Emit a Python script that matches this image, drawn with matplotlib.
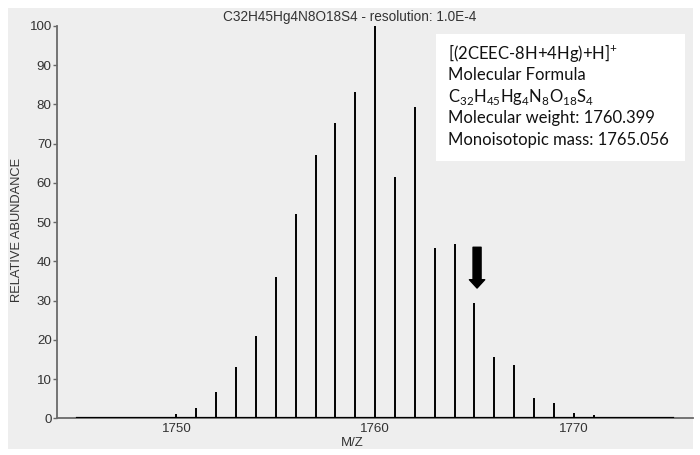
import matplotlib
matplotlib.use("Agg")
import matplotlib.pyplot as plt
from matplotlib.patches import Rectangle, FancyArrowPatch

# ==========================
# Veri: izotop dağılımı (m/z, bağıl bolluk)
# ==========================
mz = [1745, 1746, 1747, 1748, 1749, 1750, 1751, 1752, 1753, 1754, 1755,
      1756, 1757, 1758, 1759, 1760, 1761, 1762, 1763, 1764, 1765, 1766,
      1767, 1768, 1769, 1770, 1771, 1772, 1773, 1774, 1775]
abundance = [0.1, 0.05, 0.15, 0.2, 0.35, 1.2, 2.5, 6.8, 13.0, 21.1, 36.1,
             52.0, 67.0, 75.3, 83.3, 100.0, 61.6, 79.3, 43.4, 44.5, 29.3, 15.6,
             13.6, 5.3, 3.8, 1.4, 0.8, 0.3, 0.2, 0.15, 0.1]

x_ticks = [1750, 1760, 1770]
y_ticks = [0, 10, 20, 30, 40, 50, 60, 70, 80, 90, 100]

title = "C32H45Hg4N8O18S4 - resolution: 1.0E-4"
info_lines = [
    r"[(2CEEC-8H+4Hg)+H]$^{+}$",
    "Molecular Formula",
    r"C$_{32}$H$_{45}$Hg$_{4}$N$_{8}$O$_{18}$S$_{4}$",
    "Molecular weight: 1760.399",
    "Monoisotopic mass: 1765.056",
]
arrow_mz = 1765.13
arrow_top, arrow_tip = 43.6, 33.2

grey = "#eeeeee"
plt.rcParams["font.family"] = ["Liberation Sans", "DejaVu Sans"]
plt.rcParams["mathtext.fontset"] = "custom"
plt.rcParams["mathtext.rm"] = "Lato"

fig = plt.figure(figsize=(7, 4.55), dpi=100)
fig.patch.set_facecolor("white")
# gri panel (grafiğin arkasında)
fig.patches.append(Rectangle((8 / 700, 1 - 449 / 455), 685 / 700, 441 / 455,
                             transform=fig.transFigure, facecolor=grey,
                             edgecolor="none", zorder=-10))

ax = fig.add_axes([57.3 / 700, 1 - 418.3 / 455, (693 - 57.3) / 700, 392.3 / 455])
ax.set_facecolor(grey)
ax.set_xlim(1744, 1776)
ax.set_ylim(0, 100)

# Taban çizgisi + tepe çizgileri
ax.plot([mz[0], mz[-1]], [0, 0], color="black", lw=1.6, zorder=3)
ax.vlines(mz, 0, abundance, color="black", lw=1.4, zorder=3)

for s in ["top", "right"]:
    ax.spines[s].set_visible(False)
for s in ["left", "bottom"]:
    ax.spines[s].set_color("#6a6a6a")
    ax.spines[s].set_linewidth(1.3)

ax.set_xticks(x_ticks)
ax.set_yticks(y_ticks)
ax.tick_params(axis="y", length=3, width=1, color="#666666", labelsize=9.6,
               labelcolor="#333333", pad=1)
ax.tick_params(axis="x", length=0, labelsize=9.6, labelcolor="#333333", pad=3.5)

fig.text(17 / 700, 1 - 230 / 455, "RELATIVE ABUNDANCE", rotation=90,
         ha="center", va="center", fontsize=9.3, color="#333333")
fig.text(0.5, 1 - 17 / 455, title, ha="center", va="center", fontsize=9.8,
         color="#333333")
fig.text(352 / 700, 1 - 443 / 455, "M/Z", ha="center", va="center",
         fontsize=9.5, color="#333333")

# Bilgi kutusu
fig.patches.append(Rectangle((436 / 700, 1 - 161 / 455), 249 / 700, 127 / 455,
                             transform=fig.transFigure, facecolor="white",
                             edgecolor="none", zorder=1))
line_y = [53, 75, 97, 118.5, 140]
for txt, yy in zip(info_lines, line_y):
    fig.text(448 / 700, 1 - yy / 455, txt, ha="left", va="center",
             fontsize=12, family="Lato", color="#111111", zorder=2)

# Ok
arrow = FancyArrowPatch((arrow_mz, arrow_top), (arrow_mz, arrow_tip),
                        arrowstyle="simple,head_length=6,head_width=11,tail_width=5.8",
                        mutation_scale=1, color="black", shrinkA=0, shrinkB=0,
                        zorder=4)
ax.add_patch(arrow)

fig.savefig("out.png", dpi=100)
